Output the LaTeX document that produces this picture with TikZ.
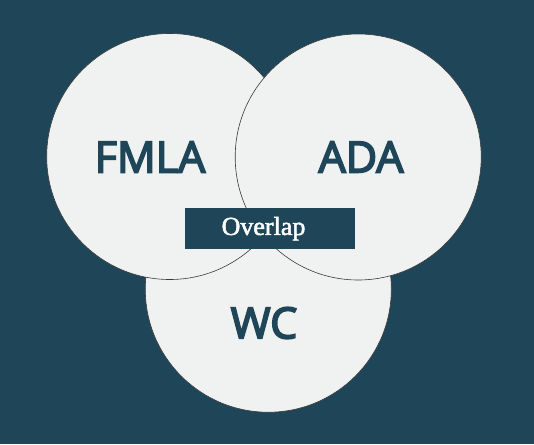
\documentclass[tikz,border=0pt]{standalone}
\usepackage{fontspec}
\setmainfont{Liberation Serif}
\newfontfamily\vennfont[FakeBold=4]{Open Sans}
\newfontfamily\overlapfont[FakeBold=2]{Liberation Serif}
\usepackage{tikz}
\usetikzlibrary{positioning}
\definecolor{deepteal}{HTML}{1E4658}
\definecolor{paleset}{HTML}{F0F1F1}
\definecolor{rimgray}{HTML}{3A3A3A}

\begin{document}
\begin{tikzpicture}[
    x=1pt, y=-1pt,
    vennset/.style={circle, draw=rimgray, line width=0.6pt, fill=paleset, minimum size=246pt, inner sep=0pt},
    setlabel/.style={text=deepteal, font=\vennfont\fontsize{43}{43}\selectfont, inner sep=0pt},
    overlapbox/.style={rectangle, fill=deepteal, minimum width=170pt, minimum height=40.7pt, inner sep=0pt, text=white, font=\overlapfont\fontsize{26}{26}\selectfont}
]
    % Background
    \fill[deepteal] (0,0) rectangle (534,444);

    % Sets (back to front)
    \node[vennset] (wc) at (268.3,289.2) {};
    \node[vennset] (fmla) at (169.7,156.5) {};
    \node[vennset] (ada) at (358.2,157) {};

    % Set names
    \node[setlabel] (fmlalabel) at (150,157) {FMLA};
    \node[setlabel] (adalabel) at (361,157) {ADA};
    \node[setlabel] (wclabel) at (264,323) {WC};

    % Shared area
    \node[overlapbox] (overlap) at (270,228.7) {Overlap\hspace*{13pt}};
\end{tikzpicture}
\end{document}
